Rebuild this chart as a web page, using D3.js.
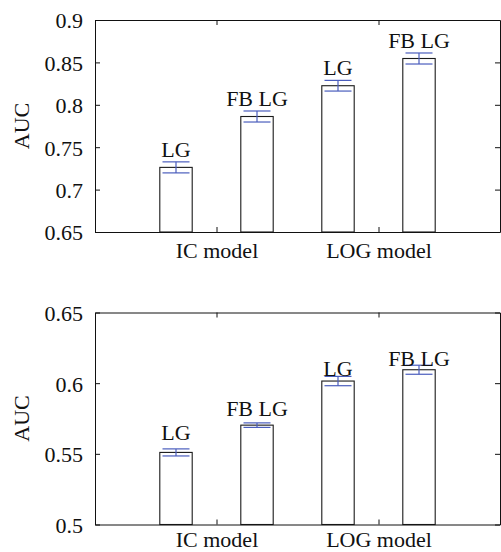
<!DOCTYPE html>
<meta charset="utf-8">
<style>

body {
  margin: 0;
  background: #fff;
}

text {
  font-family: "Liberation Serif", "Times New Roman", serif;
  fill: #111;
}

</style>
<body>
<script src="https://d3js.org/d3.v7.min.js"></script>
<script>

// bar positions on the x axis, the two groups and the per-bar labels
var barPos = [1, 2, 3, 4],
    groupPos = [1.5, 3.5],
    groupNames = ["IC model", "LOG model"],
    barNames = ["LG", "FB LG", "LG", "FB LG"];

// upper panel
var aucTop = [0.7262, 0.7862, 0.8225, 0.8546],
    errTop = [0.0065, 0.0065, 0.0063, 0.0065],
    labelAtTop = [0.7384, 0.7982, 0.8349, 0.867],
    ticksTop = [0.65, 0.7, 0.75, 0.8, 0.85, 0.9];

// lower panel
var aucBottom = [0.5510, 0.5703, 0.6015, 0.6095],
    errBottom = [0.0025, 0.0016, 0.0033, 0.0032],
    labelAtBottom = [0.5601, 0.5768, 0.6052, 0.6118],
    ticksBottom = [0.5, 0.55, 0.6, 0.65];

var width = 501,
    height = 552,
    left = 95,
    right = 500,
    plotH = 212;

var svg = d3.select("body").append("svg")
    .attr("width", width)
    .attr("height", height);

var x = d3.scaleLinear()
    .domain([0, 5])
    .range([left, right]);

var barW = x(0.4) - x(0),
    capW = 13.5;

function panel(top, values, errs, labelAt, ticks, pad) {
  var y = d3.scaleLinear()
      .domain([ticks[0], ticks[ticks.length - 1]])
      .range([top + plotH, top]);

  var g = svg.append("g");

  g.selectAll(".bar")
      .data(values)
    .enter().append("rect")
      .attr("class", "bar")
      .attr("x", function(d, i) { return x(barPos[i]) - barW / 2; })
      .attr("y", function(d) { return y(d); })
      .attr("width", barW)
      .attr("height", function(d) { return y.range()[0] - y(d); })
      .attr("fill", "#fff")
      .attr("stroke", "#1a1a1a")
      .attr("stroke-width", 1.1);

  var eb = g.selectAll(".err")
      .data(values)
    .enter().append("g")
      .attr("class", "err")
      .attr("stroke", "#4a5dbd")
      .attr("stroke-width", 1.2);

  eb.append("line")
      .attr("x1", function(d, i) { return x(barPos[i]); })
      .attr("x2", function(d, i) { return x(barPos[i]); })
      .attr("y1", function(d, i) { return y(d + errs[i]); })
      .attr("y2", function(d, i) { return y(d - errs[i]); });

  eb.append("line")
      .attr("x1", function(d, i) { return x(barPos[i]) - capW; })
      .attr("x2", function(d, i) { return x(barPos[i]) + capW; })
      .attr("y1", function(d, i) { return y(d + errs[i]); })
      .attr("y2", function(d, i) { return y(d + errs[i]); });

  eb.append("line")
      .attr("x1", function(d, i) { return x(barPos[i]) - capW; })
      .attr("x2", function(d, i) { return x(barPos[i]) + capW; })
      .attr("y1", function(d, i) { return y(d - errs[i]); })
      .attr("y2", function(d, i) { return y(d - errs[i]); });

  g.selectAll(".lbl")
      .data(labelAt)
    .enter().append("text")
      .attr("class", "lbl")
      .attr("x", function(d, i) { return x(barPos[i]); })
      .attr("y", function(d) { return y(d); })
      .attr("text-anchor", "middle")
      .style("font-size", "22px")
      .text(function(d, i) { return barNames[i]; });

  var yl = g.append("g")
      .attr("transform", "translate(" + left + ",0)")
      .call(d3.axisLeft(y).tickValues(ticks).tickFormat(d3.format("")).tickSizeInner(-5).tickSizeOuter(0).tickPadding(12));

  g.append("g")
      .attr("transform", "translate(" + right + ",0)")
      .call(d3.axisRight(y).tickValues(ticks).tickFormat("").tickSizeInner(-5).tickSizeOuter(0));

  g.append("g")
      .attr("transform", "translate(0," + (top + plotH) + ")")
      .call(d3.axisBottom(x).tickValues(groupPos).tickFormat(function(d, i) { return groupNames[i]; }).tickSizeInner(-5).tickSizeOuter(0).tickPadding(pad));

  g.append("g")
      .attr("transform", "translate(0," + top + ")")
      .call(d3.axisTop(x).tickValues(groupPos).tickFormat("").tickSizeInner(-5).tickSizeOuter(0));

  g.selectAll(".domain, .tick line").attr("stroke", "#111");
  g.selectAll(".tick text")
      .style("font-size", "22px")
      .style("font-family", "'Liberation Serif', serif")
      .attr("fill", "#111");
  yl.selectAll(".tick text").attr("dy", "0.36em");

  g.append("text")
      .attr("transform", "translate(29," + (top + plotH / 2) + ") rotate(-90)")
      .attr("text-anchor", "middle")
      .style("font-size", "22px")
      .text("AUC");
}

panel(20, aucTop, errTop, labelAtTop, ticksTop, 10.5);
panel(312.5, aucBottom, errBottom, labelAtBottom, ticksBottom, 7);

</script>
